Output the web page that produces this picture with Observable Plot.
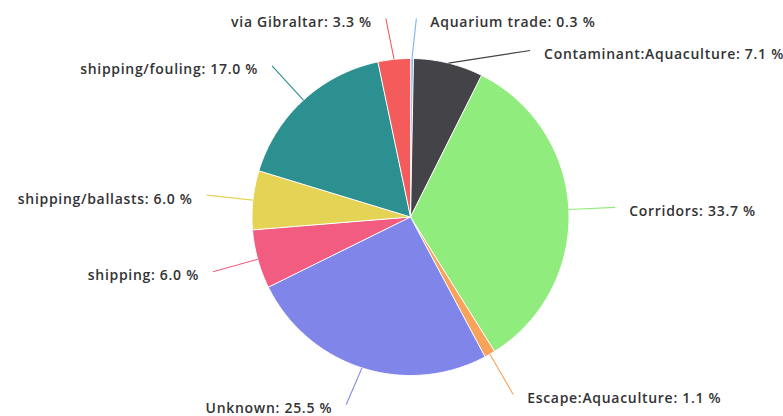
<!DOCTYPE html>
<html><head><meta charset="utf-8">
<script src="https://cdn.jsdelivr.net/npm/d3@7"></script>
<script src="https://cdn.jsdelivr.net/npm/@observablehq/plot@0.6"></script>
<style>body{margin:0;background:#fff}#chart svg{display:block}#chart text{letter-spacing:0.7px}</style>
</head><body><div id="chart"></div>
<script>
// ---- data ----
const categories = ["Aquarium trade","Contaminant:Aquaculture","Corridors","Escape:Aquaculture","Unknown","shipping","shipping/ballasts","shipping/fouling","via Gibraltar"];
const shares = [0.3, 7.1, 33.7, 1.1, 25.5, 6.0, 6.0, 17.0, 3.3];
const colors = ["#7cb5ec","#434348","#90ed7d","#f7a35c","#8085e9","#f15c80","#e4d354","#2b908f","#f45b5b"];

// ---- layout ----
const W = 783, H = 416;
const cx = 410, cy = 216.5, r = 158.5;
const R = 205, gap = 32, yMin = 18, yMax = 404, pad = 14, textShift = 4;

const rows = categories.map((c, i) => ({name: c, value: shares[i], color: colors[i]}));
const arcs = d3.pie().sort(null).value(d => d.value).startAngle(0).endAngle(2 * Math.PI)(rows);

// slice polygons
const polys = [];
arcs.forEach((a, i) => {
  const n = Math.max(2, Math.ceil((a.endAngle - a.startAngle) / (Math.PI / 360)));
  polys.push({k: i, x: cx, y: cy, color: a.data.color});
  for (let j = 0; j <= n; j++) {
    const t = a.startAngle + (a.endAngle - a.startAngle) * j / n;
    polys.push({k: i, x: cx + r * Math.sin(t), y: cy - r * Math.cos(t), color: a.data.color});
  }
});

// labels & connectors
const labels = arcs.map((a, i) => {
  const m = (a.startAngle + a.endAngle) / 2;
  return {
    name: a.data.name, value: a.data.value, color: a.data.color, m,
    side: Math.sin(m) >= 0 ? 1 : -1,
    x0: cx + r * Math.sin(m), y0: cy - r * Math.cos(m),
    xe: cx + R * Math.sin(m), ye: cy - R * Math.cos(m)
  };
});
for (const side of [1, -1]) {
  const s = labels.filter(d => d.side === side).sort((a, b) => a.ye - b.ye);
  let prev = -Infinity;
  for (const d of s) {
    let y = Math.min(yMax, Math.max(d.ye, prev + gap, yMin));
    const moved = y - d.ye;
    if (Math.abs(moved) > 15) {
      d.xe = cx + side * Math.sqrt(Math.max(0, R * R - (y - cy) ** 2));
    } else if (Math.abs(moved) > 0) {
      const t = (cy - y) / Math.cos(d.m);
      d.xe = cx + t * Math.sin(d.m) + side * 4;
    }
    d.ye = y;
    prev = y;
  }
}
labels.forEach(d => {
  d.lx = d.xe + d.side * pad;
  d.ly = d.ye + textShift;
  d.text = `${d.name}: ${d.value.toFixed(1)} %`;
});

const textStyle = {fontSize: 14, fontWeight: 600, fill: "#333333", fontFamily: "'Open Sans', sans-serif"};

const chart = Plot.plot({
  width: W, height: H,
  margin: 0,
  x: {domain: [0, W], range: [0, W], axis: null},
  y: {domain: [0, H], range: [0, H], axis: null},
  color: {type: "identity"},
  marks: [
    Plot.line(polys, {x: "x", y: "y", z: "k", fill: "color", stroke: "#ffffff", strokeWidth: 1, strokeLinejoin: "round", curve: "linear-closed"}),
    Plot.link(labels, {x1: "x0", y1: "y0", x2: "xe", y2: "ye", stroke: "color", strokeWidth: 1.1}),
    Plot.text(labels.filter(d => d.side > 0), {x: "lx", y: "ly", text: "text", textAnchor: "start", ...textStyle}),
    Plot.text(labels.filter(d => d.side < 0), {x: "lx", y: "ly", text: "text", textAnchor: "end", ...textStyle})
  ]
});
document.getElementById("chart").appendChild(chart);
</script>
</body></html>
